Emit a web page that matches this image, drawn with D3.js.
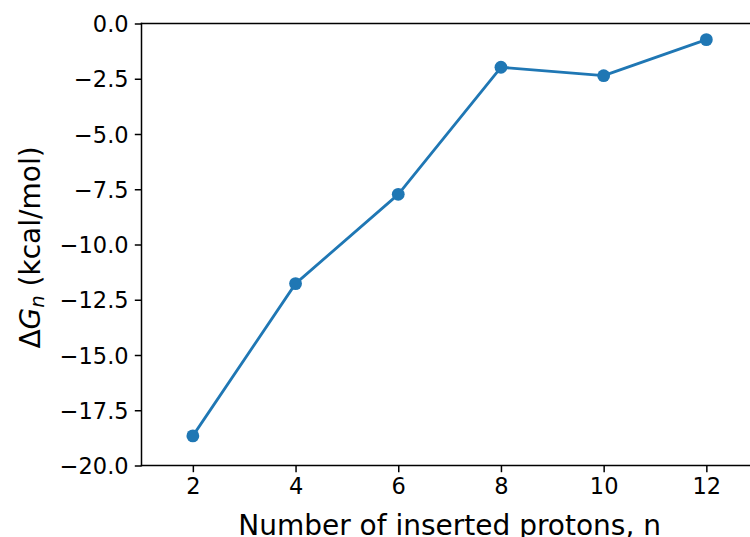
<!DOCTYPE html>
<html>
<head>
<meta charset="utf-8">
<script src="https://cdn.jsdelivr.net/npm/d3@7"></script>
<style>
  html, body { margin: 0; padding: 0; background: #fff; }
  svg { display: block; }
  text { font-family: "DejaVu Sans", sans-serif; fill: #000; }
</style>
</head>
<body>
<svg id="chart" width="750" height="537"></svg>
<script>
// Data
const protons = [2, 4, 6, 8, 10, 12];
const deltaG = [-18.66, -11.77, -7.73, -1.98, -2.36, -0.73];
const xTicks = [2, 4, 6, 8, 10, 12];
const yTicks = [-20, -17.5, -15, -12.5, -10, -7.5, -5, -2.5, 0];
const xLabel = "Number of inserted protons, n";

const svg = d3.select("#chart");
const padLeft = 141.5, padTop = 23.5, padBottom = 465.5;
const pxPerX = 51.35;

const x = d3.scaleLinear().domain([1, 13]).range([padLeft, padLeft + 12 * pxPerX]);
const y = d3.scaleLinear().domain([-20, 0]).range([padBottom, padTop]);

const color = "#1f77b4";
const tickFont = 22.5;
const labelFont = 28;

// line
const line = d3.line().x((d, i) => x(protons[i])).y(d => y(d));
svg.append("path")
  .datum(deltaG)
  .attr("d", line)
  .attr("fill", "none")
  .attr("stroke", color)
  .attr("stroke-width", 2.8)
  .attr("stroke-linejoin", "round")
  .attr("stroke-linecap", "butt");

svg.selectAll("circle.pt")
  .data(deltaG)
  .enter().append("circle")
  .attr("class", "pt")
  .attr("cx", (d, i) => x(protons[i]))
  .attr("cy", d => y(d))
  .attr("r", 6.4)
  .attr("fill", color);

// axes
const fmt = d3.format(".1f");
const yAxis = d3.axisLeft(y).tickValues(yTicks).tickFormat(fmt).tickSizeOuter(0).tickSize(6.7).tickPadding(6.2);
const xAxis = d3.axisBottom(x).tickValues(xTicks).tickFormat(d3.format("d")).tickSizeOuter(0).tickSize(6.7).tickPadding(6.2);

const gy = svg.append("g").attr("transform", `translate(${padLeft},0)`).call(yAxis);
const gx = svg.append("g").attr("transform", `translate(0,${padBottom})`).call(xAxis);

[gx, gy].forEach(g => {
  g.select(".domain").remove();
  g.selectAll(".tick line").attr("stroke", "#000").attr("stroke-width", 1.5);
  g.selectAll(".tick text")
    .style("font-family", '"DejaVu Sans", sans-serif')
    .style("font-size", tickFont + "px")
    .attr("fill", "#000");
});
gy.selectAll(".tick text").attr("dy", "0.36em");

// spines (left, bottom, top)
svg.append("line").attr("x1", padLeft).attr("x2", padLeft).attr("y1", padTop).attr("y2", padBottom)
  .attr("stroke", "#000").attr("stroke-width", 1.5).attr("stroke-linecap", "square");
svg.append("line").attr("x1", padLeft).attr("x2", 760).attr("y1", padBottom).attr("y2", padBottom)
  .attr("stroke", "#000").attr("stroke-width", 1.5).attr("stroke-linecap", "square");
svg.append("line").attr("x1", padLeft).attr("x2", 760).attr("y1", padTop).attr("y2", padTop)
  .attr("stroke", "#000").attr("stroke-width", 1.5).attr("stroke-linecap", "square");

// x label
svg.append("text")
  .attr("x", (x.range()[0] + x.range()[1]) / 2)
  .attr("y", 535)
  .attr("text-anchor", "middle")
  .style("font-size", labelFont + "px")
  .text(xLabel);

// y label
const yl = svg.append("text")
  .attr("transform", `translate(40,${(padTop + padBottom) / 2 + 3}) rotate(-90)`)
  .attr("text-anchor", "middle")
  .style("font-size", labelFont + "px");
yl.append("tspan").text("Δ");
yl.append("tspan").style("font-style", "italic").text("G");
yl.append("tspan").style("font-style", "italic").style("font-size", (labelFont * 0.7) + "px").attr("dy", "0.22em").text("n");
yl.append("tspan").attr("dy", "-0.154em").text(" (kcal/mol)");
</script>
</body>
</html>
